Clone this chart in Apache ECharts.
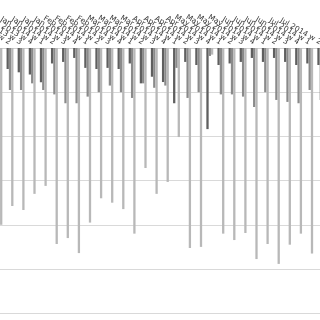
<!DOCTYPE html>
<html><head><meta charset="utf-8">
<script src="https://cdn.jsdelivr.net/npm/echarts@6/dist/echarts.min.js"></script>
<style>html,body{margin:0;padding:0;background:#fff}#c{width:320px;height:320px}</style>
</head><body><div id="c"></div>
<script>
const categories = [
  'Dec 2013 w 1','Dec 2013 w 2','Dec 2013 w 3','Dec 2013 w 4',
  'Jan 2014 w 1','Jan 2014 w 2','Jan 2014 w 3','Jan 2014 w 4',
  'Feb 2014 w 1','Feb 2014 w 2','Feb 2014 w 3','Feb 2014 w 4',
  'Mar 2014 w 1','Mar 2014 w 2','Mar 2014 w 3','Mar 2014 w 4',
  'Apr 2014 w 1','Apr 2014 w 2','Apr 2014 w 3','Apr 2014 w 4',
  'May 2014 w 1','May 2014 w 2','May 2014 w 3','May 2014 w 4',
  'Jun 2014 w 1','Jun 2014 w 2','Jun 2014 w 3','Jun 2014 w 4',
  'Jul 2014 w 1','Jul 2014 w 2'
];
const darkValues = [20, 9.5, 11, 12, 15.5, 7, 6.3, 4.5, 9, 9.5, 9, 9.5, 7, 16, 13, 15.4, 25, 6.3, 7.7, 36.7, 7.7, 7, 6.3, 4.5, 6.3, 4.5, 6.3, 7.7, 7, 7.7];
const mediumValues = [21, 19, 19, 16, 19, 21, 25, 25, 22, 20, 17, 20, 22.6, 16, 18, 17, 9, 22.6, 20, 3.6, 21, 21, 22, 26.7, 20, 23.5, 24.4, 25, 19, 23.5];
const lightValues = [80, 71.5, 73.3, 66, 62.4, 88.7, 86, 92.8, 79, 68, 70, 72.9, 84, 54.3, 66, 60.6, 40.3, 90.5, 90, 3, 84, 86.9, 83.7, 95.5, 88.7, 97.7, 89, 84, 93, 87];

const chart = echarts.init(document.getElementById('c'));
const barStyle = (color) => ({
  type: 'bar', barWidth: 2.3, barGap: '0%', itemStyle: { color: color }, animation: false
});
chart.setOption({
  animation: false,
  grid: { top: 48, left: -6.65, width: 333, height: 309.4, containLabel: false, outerBoundsMode: 'none' },
  xAxis: {
    type: 'category', data: categories, position: 'top',
    axisLine: { show: true, lineStyle: { color: '#d0d0d0', width: 1 } },
    axisTick: { show: false },
    axisLabel: { interval: 0, rotate: -30, fontSize: 7.5, color: '#3a3a3a', fontFamily: 'DejaVu Sans', margin: 5, hideOverlap: false }
  },
  yAxis: {
    type: 'value', inverse: true, min: 0, max: 140, interval: 20,
    axisLabel: { show: false }, axisLine: { show: false }, axisTick: { show: false },
    splitLine: { lineStyle: { color: '#d9d9d9', width: 1 } }
  },
  series: [
    Object.assign(barStyle('#5f5f5f'), { name: 'A', data: darkValues }),
    Object.assign(barStyle('#8a8a8a'), { name: 'B', data: mediumValues }),
    Object.assign(barStyle('#b8b8b8'), { name: 'C', data: lightValues })
  ]
});
</script></body></html>
